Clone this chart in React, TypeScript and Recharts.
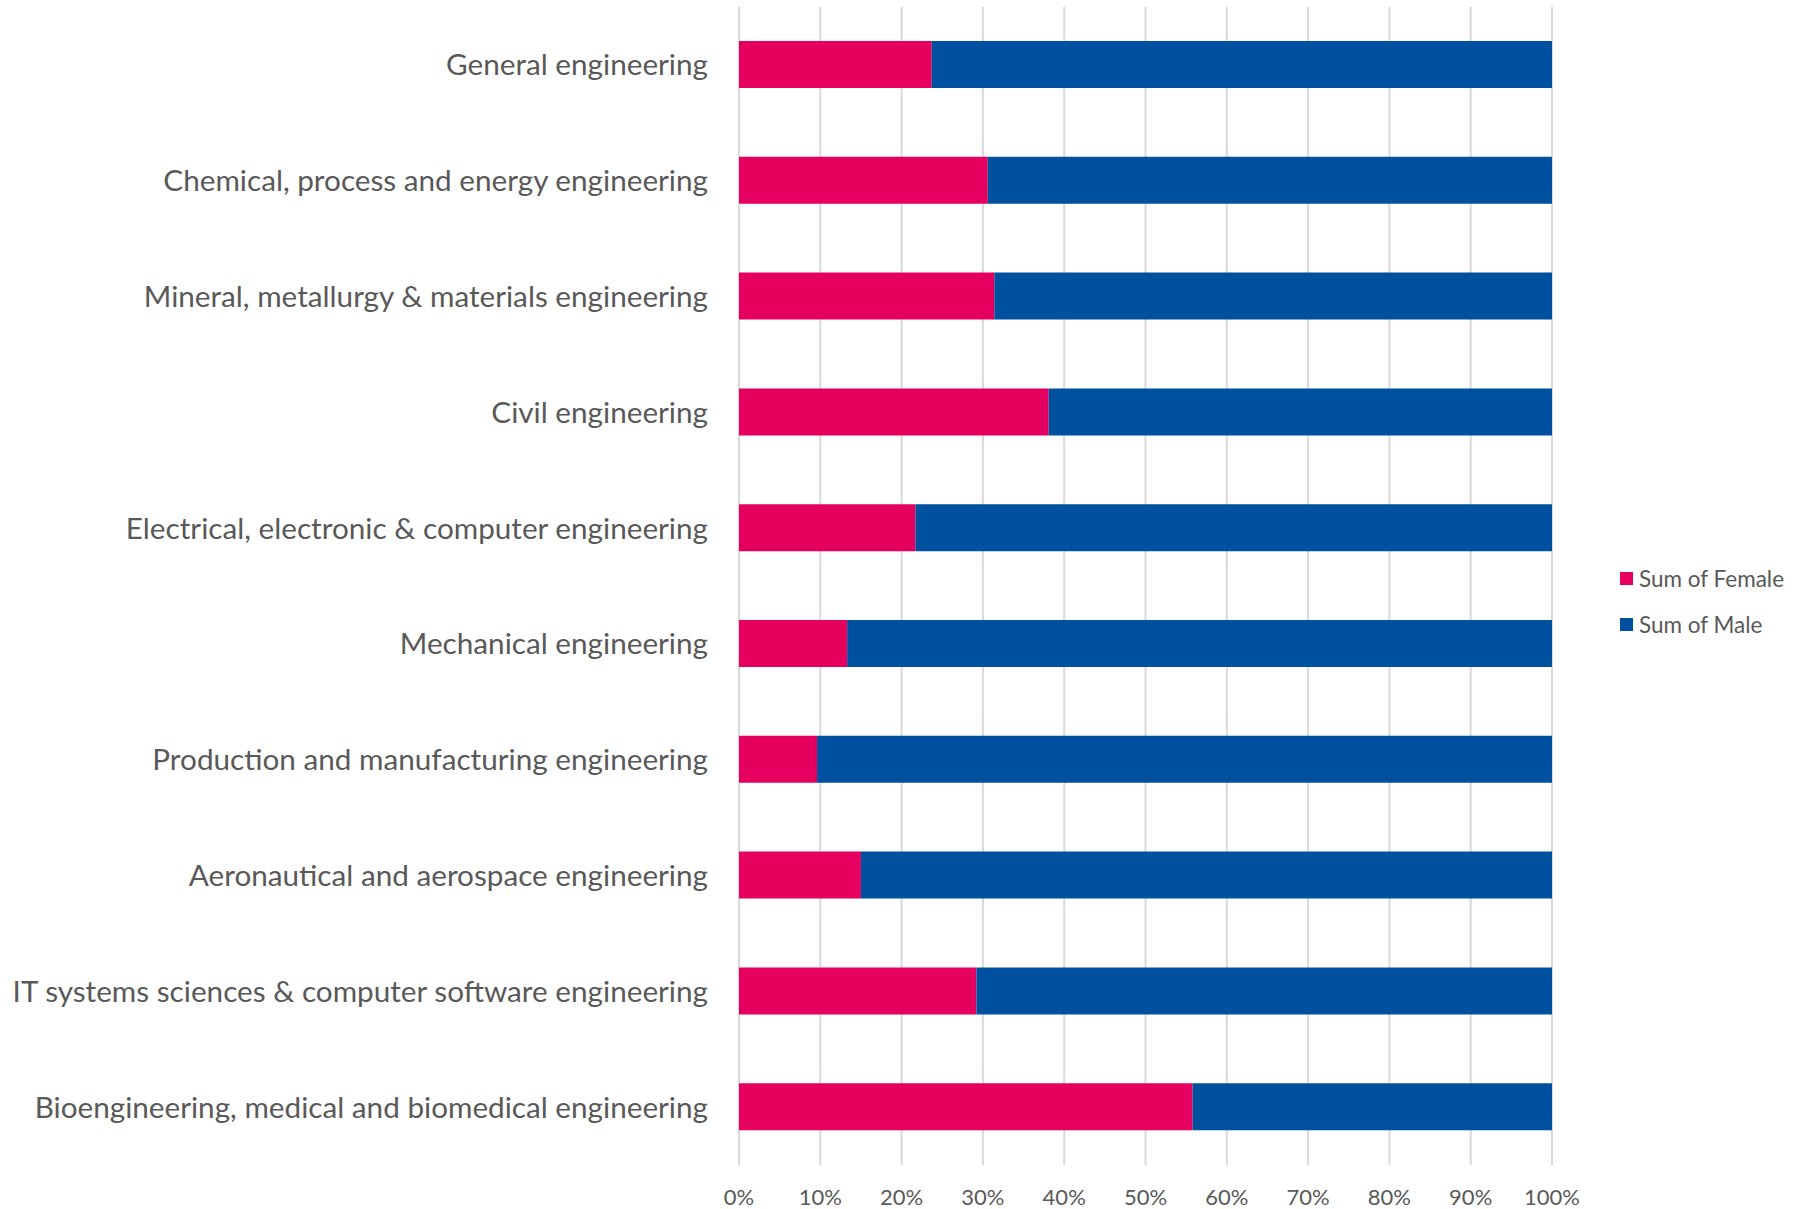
import React from 'react';
import { BarChart, Bar, XAxis, YAxis, CartesianGrid, Legend } from 'recharts';

const categories = [
  'General engineering',
  'Chemical, process and energy engineering',
  'Mineral, metallurgy & materials engineering',
  'Civil engineering',
  'Electrical, electronic & computer engineering',
  'Mechanical engineering',
  'Production and manufacturing engineering',
  'Aeronautical and aerospace engineering',
  'IT systems sciences & computer software engineering',
  'Bioengineering, medical and biomedical engineering',
];

// share of students, in percent
const femaleShare = [23.7, 30.6, 31.4, 38.1, 21.7, 13.3, 9.6, 15.0, 29.2, 55.8];
const maleShare = [76.3, 69.4, 68.6, 61.9, 78.3, 86.7, 90.4, 85.0, 70.8, 44.2];

const xTicks = [0, 10, 20, 30, 40, 50, 60, 70, 80, 90, 100];

const FEMALE = '#E5005F';
const MALE = '#0050A0';
const TEXT = '#595959';
const FONT = 'Lato, "Open Sans", sans-serif';

const data = categories.map((name, i) => ({
  name,
  female: femaleShare[i],
  male: maleShare[i],
}));

const legendItems = [
  { label: 'Sum of Female', color: FEMALE },
  { label: 'Sum of Male', color: MALE },
];

const LegendBox = () => (
  <div style={{ fontFamily: FONT, fontSize: 22.5, color: TEXT }}>
    {legendItems.map((it) => (
      <div key={it.label} style={{ display: 'flex', alignItems: 'center', height: 46 }}>
        <span style={{ width: 13, height: 13, background: it.color, marginRight: 6, display: 'inline-block' }} />
        <span>{it.label}</span>
      </div>
    ))}
  </div>
);

const App: React.FC = () => {
  return (
    <div style={{ position: 'absolute', left: 0, top: 0, width: 1805, height: 1209, background: '#fff' }}>
      <BarChart
        width={1805}
        height={1209}
        data={data}
        layout="vertical"
        margin={{ top: 7, right: 253, bottom: 0, left: 0 }}
      >
        <CartesianGrid horizontal={false} stroke="#D9D9D9" strokeWidth={2} />
        <XAxis
          type="number"
          domain={[0, 100]}
          ticks={xTicks}
          tickFormatter={(v) => `${v}%`}
          axisLine={false}
          tickLine={false}
          tickSize={0}
          tickMargin={24}
          height={44}
          interval={0}
          tick={{ fill: TEXT, fontSize: 22, fontFamily: FONT }}
        />
        <YAxis
          type="category"
          dataKey="name"
          width={739}
          axisLine={false}
          tickLine={false}
          tickSize={0}
          tickMargin={31}
          interval={0}
          tick={{ fill: TEXT, fontSize: 29.7, fontFamily: FONT }}
        />
        <Legend
          layout="vertical"
          align="center"
          verticalAlign="middle"
          wrapperStyle={{ left: 1620, top: 555, width: 185 }}
          content={() => <LegendBox />}
        />
        <Bar dataKey="female" name="Sum of Female" stackId="a" fill={FEMALE} barSize={47} isAnimationActive={false} />
        <Bar dataKey="male" name="Sum of Male" stackId="a" fill={MALE} barSize={47} isAnimationActive={false} />
      </BarChart>
    </div>
  );
};

export default App;
